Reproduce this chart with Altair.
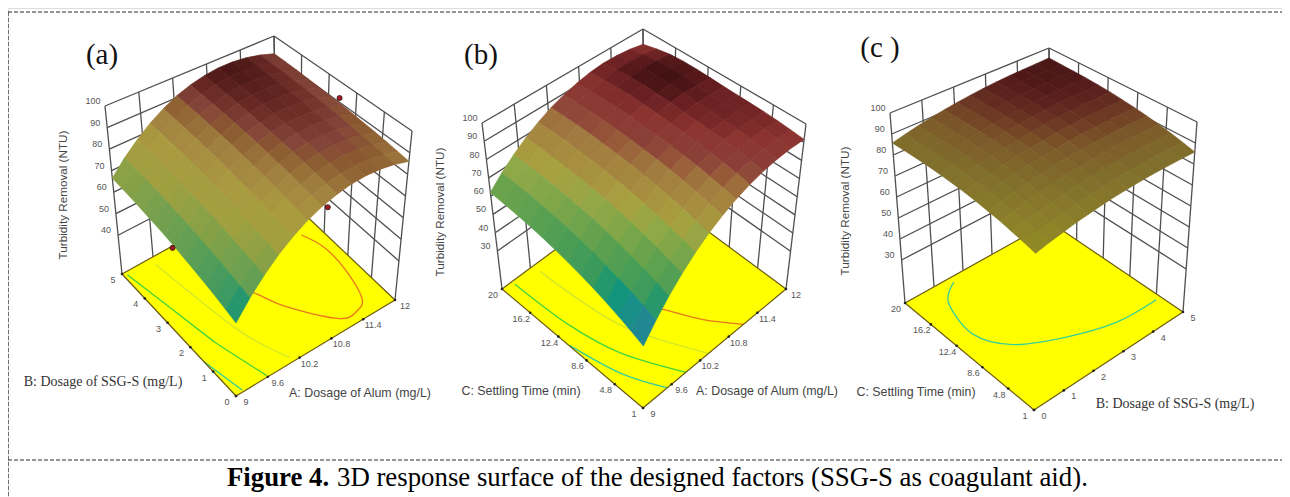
import altair as alt
import pandas as pd

# Surface heights; rows follow the left floor axis, columns the right floor axis.
Z_A = [
 [52,59.3,65.7,71.4,76.2,80.3,83.5,85.9,87.6,88.4,88.4,87.6,86],
 [53.5,60.7,67.1,72.7,77.5,81.4,84.6,87,88.5,89.3,89.2,88.4,86.7],
 [55,62.1,68.4,74,78.7,82.6,85.7,88,89.5,90.2,90,89.1,87.4],
 [56.4,63.4,69.7,75.2,79.8,83.6,86.7,88.9,90.4,91,90.8,89.8,88],
 [57.7,64.7,70.9,76.3,80.9,84.7,87.6,89.8,91.2,91.7,91.5,90.4,88.5],
 [59,66,72.1,77.4,81.9,85.6,88.5,90.6,92,92.4,92.1,91,89],
 [60.3,67.1,73.2,78.5,82.9,86.5,89.4,91.4,92.6,93,92.7,91.5,89.5],
 [61.5,68.2,74.2,79.4,83.8,87.4,90.2,92.1,93.3,93.6,93.2,92,89.8],
 [62.6,69.3,75.2,80.4,84.7,88.2,90.9,92.8,93.9,94.2,93.6,92.3,90.2],
 [63.6,70.3,76.2,81.2,85.5,88.9,91.5,93.4,94.4,94.6,94,92.6,90.4],
 [64.7,71.2,77,82,86.2,89.6,92.2,93.9,94.9,95,94.4,92.9,90.7],
 [65.6,72.1,77.9,82.8,86.9,90.2,92.7,94.4,95.3,95.4,94.7,93.1,90.8],
 [66.5,73,78.6,83.5,87.5,90.8,93.2,94.8,95.7,95.7,94.9,93.3,90.9],
]
Z_B = [
 [40,48.2,55.7,62.5,68.6,74,78.6,82.6,85.8,88.3,90.1,91.2,91.5],
 [42.8,50.9,58.2,64.8,70.8,76,80.4,84.2,87.3,89.6,91.2,92.2,92.3],
 [45.4,53.3,60.5,67,72.7,77.8,82.1,85.7,88.6,90.8,92.2,93,93],
 [47.9,55.6,62.6,68.9,74.5,79.4,83.6,87,89.7,91.8,93.1,93.6,93.5],
 [50.2,57.7,64.6,70.7,76.2,80.9,84.9,88.1,90.7,92.6,93.7,94.1,93.8],
 [52.3,59.7,66.4,72.4,77.6,82.2,86,89.1,91.5,93.2,94.2,94.4,94],
 [54.2,61.4,67.9,73.8,78.9,83.3,86.9,89.9,92.1,93.6,94.4,94.5,94.3],
 [55.9,63,69.4,75,80,84.2,87.7,90.5,93,94.6,95.4,95.2,94.7],
 [57.5,64.4,70.6,76.1,80.9,84.9,88.5,91.4,93.6,95,95.8,95.7,95],
 [58.9,65.7,71.7,77,81.6,85.7,89,91.8,94,95.4,96,95.9,95],
 [60.1,66.7,72.6,77.7,82.4,86.2,89.4,91.9,93.9,95.2,95.7,95.4,94.5],
 [61.1,67.6,73.3,78.4,82.8,86.5,89.5,91.7,93.6,94.6,94.9,94.2,93],
 [62,68.3,73.8,78.7,82.9,86.5,89.3,91.4,93,93.8,93.6,92.7,91],
]
Z_C = [
 [77,78.5,79.8,81.1,82.1,83.1,83.9,84.5,85,85.4,85.6,85.7,85.7],
 [78.5,80,81.3,82.5,83.6,84.5,85.3,86,86.5,86.9,87.1,87.2,87.2],
 [79.8,81.3,82.7,83.9,85,85.9,86.7,87.4,87.9,88.3,88.5,88.6,88.6],
 [81.1,82.5,83.9,85.1,86.2,87.1,87.9,88.6,89.1,89.5,89.7,89.8,89.8],
 [82.1,83.6,85,86.2,87.2,88.2,89,89.6,90.2,90.5,90.8,90.9,90.9],
 [83.1,84.5,85.9,87.1,88.2,89.1,89.9,90.6,91.1,91.5,91.7,91.8,91.8],
 [83.9,85.3,86.7,87.9,89,89.9,90.7,91.4,91.9,92.3,92.5,92.6,92.6],
 [84.5,86,87.4,88.6,89.7,90.6,91.4,92,92.6,92.9,93.2,93.3,93.3],
 [85,86.5,87.9,89.1,90.2,91.1,91.9,92.6,93.1,93.5,93.7,93.8,93.8],
 [85.4,86.9,88.3,89.5,90.6,91.5,92.3,92.9,93.5,93.9,94.1,94.2,94.2],
 [85.6,87.1,88.5,89.7,90.8,91.7,92.5,93.2,93.7,94.1,94.4,94.5,94.4],
 [85.7,87.2,88.6,89.8,90.9,91.8,92.6,93.3,93.8,94.2,94.5,94.6,94.6],
 [85.7,87.2,88.6,89.8,90.9,91.8,92.6,93.3,93.8,94.2,94.4,94.6,94.8],
]

# Axis ranges and tick labels
A_TICKS = ["9", "9.6", "10.2", "10.8", "11.4", "12"]
B_TICKS = ["0", "1", "2", "3", "4", "5"]
C_TICKS = ["1", "4.8", "8.6", "12.4", "16.2", "20"]
Z_TICKS_A = [100, 90, 80, 70, 60, 50, 40]
Z_TICKS_BC = [100, 90, 80, 70, 60, 50, 40, 30]

# Floor contours (right-axis value, left-axis value, colour)
CONTOURS_A = [
 ([9.06,9.33,9.38,9.6], [4.9,2.05,1.59,0.06], "#45d43c"),
 ([9.0,9.14], [1.4,0.06], "#35cf9a"),
 ([9.54,9.79,10.09], [4.75,1.67,0.15], "#d3e62a"),
 ([10.2,10.44,10.64,11.13,11.44,11.64,11.79,11.82,11.7], [3.2,2.38,1.58,0.4,0.33,0.6,1.63,2.57,3.3], "#e8761c"),
]
CONTOURS_B = [
 ([9.21,9.27,9.46,9.9], [19.6,12.6,7.0,1.0], "#45d43c"),
 ([9.01,9.2,9.51], [10.9,5.35,1.0], "#35cf9a"),
 ([9.66,9.82,10.37], [19.1,9.4,1.1], "#d3e62a"),
 ([10.35,10.51,10.76,11.11], [9.5,7.4,4.2,1.0], "#e8761c"),
]
CONTOURS_C = [
 ([1.52,0.89,0.6,1.12,2.31,3.59,4.85], [19.3,17.4,12.6,9.0,6.3,4.5,4.2], "#35cf9a"),
]
# Design points on panel (a): A, B, Z
POINTS_A = {"A": [12, 10.6, 9], "B": [2.6, 0, 2.6], "Z": [92, 82, 59]}

COLOR_A = ([50, 58, 65, 73, 80, 86, 89.5, 91, 93.5, 96],
           ["#2a7f90", "#3f9a60", "#70a050", "#a0a040", "#aa9a40", "#a08040", "#8a5a30", "#84453a", "#6a2a25", "#451414"])
COLOR_B = ([38, 46, 55, 62, 71, 75, 84, 88.5, 92, 94.5, 96],
           ["#24508f", "#2a8a90", "#3a9a5c", "#5aa050", "#90a848", "#a8a040", "#a07a40", "#8a4038", "#8c3430", "#6a2022", "#3f0f10"])
COLOR_C = ([76, 80, 86, 90, 92, 94, 95],
           ["#8f8f20", "#8f8428", "#80702c", "#7c5a2a", "#6e3a24", "#561c1c", "#451414"])

# Camera: image position of each box corner (front, right, left, back) on the floor and at z = 100
PANELS = {
 "a": dict(F=(236,396), R=(395,300), L=(122,274), K=(277,188), TF=(236,206), TR=(412,131), TL=(105,106), TK=(274,36),
           zf=22, u=(9,12), v=(0,5), ut=A_TICKS, vt=B_TICKS, zt=Z_TICKS_A, Z=Z_A, cont=CONTOURS_A, col=COLOR_A),
 "b": dict(F=(643,408), R=(786,289), L=(502,289), K=(644,184), TF=(644,225), TR=(806,124), TL=(482,123), TK=(643,29),
           zf=9.2, u=(9,12), v=(1,20), ut=A_TICKS, vt=C_TICKS, zt=Z_TICKS_BC, Z=Z_B, cont=CONTOURS_B, col=COLOR_B),
 "c": dict(F=(1034,410), R=(1183,312), L=(905,303), K=(1050,222), TF=(1036,200), TR=(1197,122), TL=(890,113), TK=(1049,48),
           zf=9.5, u=(0,5), v=(1,20), ut=B_TICKS, vt=C_TICKS, zt=Z_TICKS_BC, Z=Z_C, cont=CONTOURS_C, col=COLOR_C),
}


def proj(p, u, v, z):
    """Project normalised floor position (u, v) and height z into the picture."""
    t = (z - p["zf"]) / (100 - p["zf"])
    out = []
    for d in (0, 1):
        fl = (1-u)*(1-v)*p["F"][d] + u*(1-v)*p["R"][d] + (1-u)*v*p["L"][d] + u*v*p["K"][d]
        tp = (1-u)*(1-v)*p["TF"][d] + u*(1-v)*p["TR"][d] + (1-u)*v*p["TL"][d] + u*v*p["TK"][d]
        out.append(fl + (tp - fl) * t)
    return out


def norm(val, rng):
    return (val - rng[0]) / (rng[1] - rng[0])


wall, floor_edge, tick_pts, floors, labels = [], [], [], [], []
lines = {}
quads = {}


def seg(store, a, b):
    store.append(dict(x=a[0], y=a[1], x2=b[0], y2=b[1]))


for name, p in PANELS.items():
    zf = p["zf"]
    # back walls
    for z in p["zt"]:
        seg(wall, proj(p, 0, 1, z), proj(p, 1, 1, z))
        seg(wall, proj(p, 1, 1, z), proj(p, 1, 0, z))
    for k in range(0, 6):
        f = k / 5
        seg(wall, proj(p, f, 1, zf), proj(p, f, 1, 100))
        seg(wall, proj(p, 1, f, zf), proj(p, 1, f, 100))
    # floor
    ring = [proj(p, 0, 0, zf), proj(p, 1, 0, zf), proj(p, 1, 1, zf), proj(p, 0, 1, zf)]
    floors.append({"type": "Feature", "properties": {"p": name},
                   "geometry": {"type": "Polygon", "coordinates": [ring + [ring[0]]]}})
    for i in range(4):
        seg(floor_edge, ring[i], ring[(i + 1) % 4])
    # ticks and tick labels
    for k in range(6):
        f = k / 5
        a = proj(p, f, 0, zf)
        b = proj(p, 0, f, zf)
        tick_pts += [dict(x=a[0], y=a[1]), dict(x=b[0], y=b[1])]
        labels.append(dict(x=a[0] + 10, y=a[1] + 6, t=p["ut"][k]))
        labels.append(dict(x=b[0] - 9, y=b[1] + 6, t=p["vt"][k]))
    for z in p["zt"]:
        q = proj(p, 0, 1, z)
        labels.append(dict(x=q[0] - 12, y=q[1] - 5, t=str(z)))
    # contours
    for ci, (us, vs, col) in enumerate(p["cont"]):
        for o, (a, b) in enumerate(zip(us, vs)):
            q = proj(p, norm(a, p["u"]), norm(b, p["v"]), zf)
            lines.setdefault(col, []).append(dict(x=q[0], y=q[1], id=f"{name}{ci}", o=o))
    # surface quads, back to front
    Z = p["Z"]
    n = len(Z) - 1
    quads[name] = []
    for j in range(n - 1, -1, -1):
        for i in range(n - 1, -1, -1):
            cs = [(i, j), (i + 1, j), (i + 1, j + 1), (i, j + 1)]
            ring = [proj(p, a / n, b / n, Z[b][a]) for a, b in cs]
            quads[name].append({"type": "Feature",
                                "properties": {"z": sum(Z[b][a] for a, b in cs) / 4},
                                "geometry": {"type": "Polygon", "coordinates": [ring + [ring[0]]]}})

pa = PANELS["a"]
dots = [dict(zip(("x", "y"), proj(pa, norm(a, pa["u"]), norm(b, pa["v"]), z))) for a, b, z in
        zip(POINTS_A["A"], POINTS_A["B"], POINTS_A["Z"])]

X = alt.X("x:Q", scale=alt.Scale(domain=[8, 1282], nice=False, zero=False), axis=None)
Y = alt.Y("y:Q", scale=alt.Scale(domain=[497, 8], nice=False, zero=False), axis=None)
GEO = dict(type="identity", scale=1, translate=[-8, -8])


def rules(rows, **kw):
    return alt.Chart(pd.DataFrame(rows)).mark_rule(**kw).encode(x=X, y=Y, x2="x2:Q", y2="y2:Q")


def texts(rows, **kw):
    return alt.Chart(pd.DataFrame(rows)).mark_text(baseline="middle", **kw).encode(x=X, y=Y, text="t:N")


def surface(name):
    dom, rng = PANELS[name]["col"]
    sc = alt.Scale(domain=dom, range=rng)
    return alt.Chart(alt.Data(values=quads[name])).mark_geoshape(strokeWidth=0.7).encode(
        color=alt.Color("properties.z:Q", scale=sc, legend=None),
        stroke=alt.Stroke("properties.z:Q", scale=sc, legend=None)).project(**GEO)


frame = [dict(x=8, y=12, x2=1282, y2=12), dict(x=8, y=460, x2=1282, y2=460), dict(x=8, y=12, x2=8, y2=497)]

title_rows = [dict(x=63, y=195, t="Turbidity Removal (NTU)"), dict(x=440, y=212, t="Turbidity Removal (NTU)"),
              dict(x=845, y=211, t="Turbidity Removal (NTU)")]
sans_rows = [dict(x=360, y=393, t="A: Dosage of  Alum (mg/L)"), dict(x=521, y=391, t="C: Settling Time (min)"),
             dict(x=767, y=391, t="A: Dosage of  Alum (mg/L)"), dict(x=916, y=392, t="C: Settling Time (min)")]
serif_rows = [dict(x=103, y=382, t="B: Dosage of SSG-S (mg/L)"), dict(x=1175, y=404, t="B: Dosage of SSG-S (mg/L)")]
panel_rows = [dict(x=102, y=55, t="(a)"), dict(x=481, y=55, t="(b)"), dict(x=880, y=48, t="(c )")]

contour_layers = [
    alt.Chart(pd.DataFrame(rows)).mark_line(strokeWidth=1.3, interpolate="cardinal", color=col).encode(
        x=X, y=Y, detail="id:N", order="o:Q")
    for col, rows in lines.items()
]

chart = alt.layer(
    rules(frame, color="#2a2a2a", strokeWidth=1.2, strokeDash=[4, 2]),
    rules(wall, color="#4f4f4f", strokeWidth=1.3),
    alt.Chart(alt.Data(values=floors)).mark_geoshape(fill="#ffff00", strokeWidth=0).project(**GEO),
    *contour_layers,
    rules(floor_edge, color="#6b5a0c", strokeWidth=1.2),
    alt.Chart(pd.DataFrame(tick_pts)).mark_circle(size=7, color="#222222", opacity=1).encode(x=X, y=Y),
    surface("a"), surface("b"), surface("c"),
    alt.Chart(pd.DataFrame(dots)).mark_circle(size=26, color="#a01c22", stroke="#301010", strokeWidth=0.8, opacity=1).encode(x=X, y=Y),
    texts(labels, font="Liberation Sans", fontSize=9, color="#555555", align="center"),
    texts(title_rows, font="Liberation Sans", fontSize=11.7, color="#444444", align="center", angle=270),
    texts(sans_rows, font="Liberation Sans", fontSize=12.4, color="#444444", align="center"),
    texts(serif_rows, font="Liberation Serif", fontSize=14, color="#333333", align="center"),
    texts(panel_rows, font="Liberation Serif", fontSize=29, color="#111111", align="center"),
    texts([dict(x=227, y=478, t="Figure 4.")], font="Liberation Serif", fontSize=26.8, fontWeight="bold", color="#000000", align="left"),
    texts([dict(x=337, y=478, t="3D response surface of the designed factors (SSG-S as coagulant aid).")],
          font="Liberation Serif", fontSize=26.8, color="#000000", align="left"),
).resolve_scale(color="independent", stroke="independent").properties(
    width=1274, height=489, padding=0, autosize=alt.AutoSizeParams(type="none")
).configure_view(strokeWidth=0).configure(background="#ffffff")

chart.save("out.html", embed_options={"renderer": "svg", "actions": False})
